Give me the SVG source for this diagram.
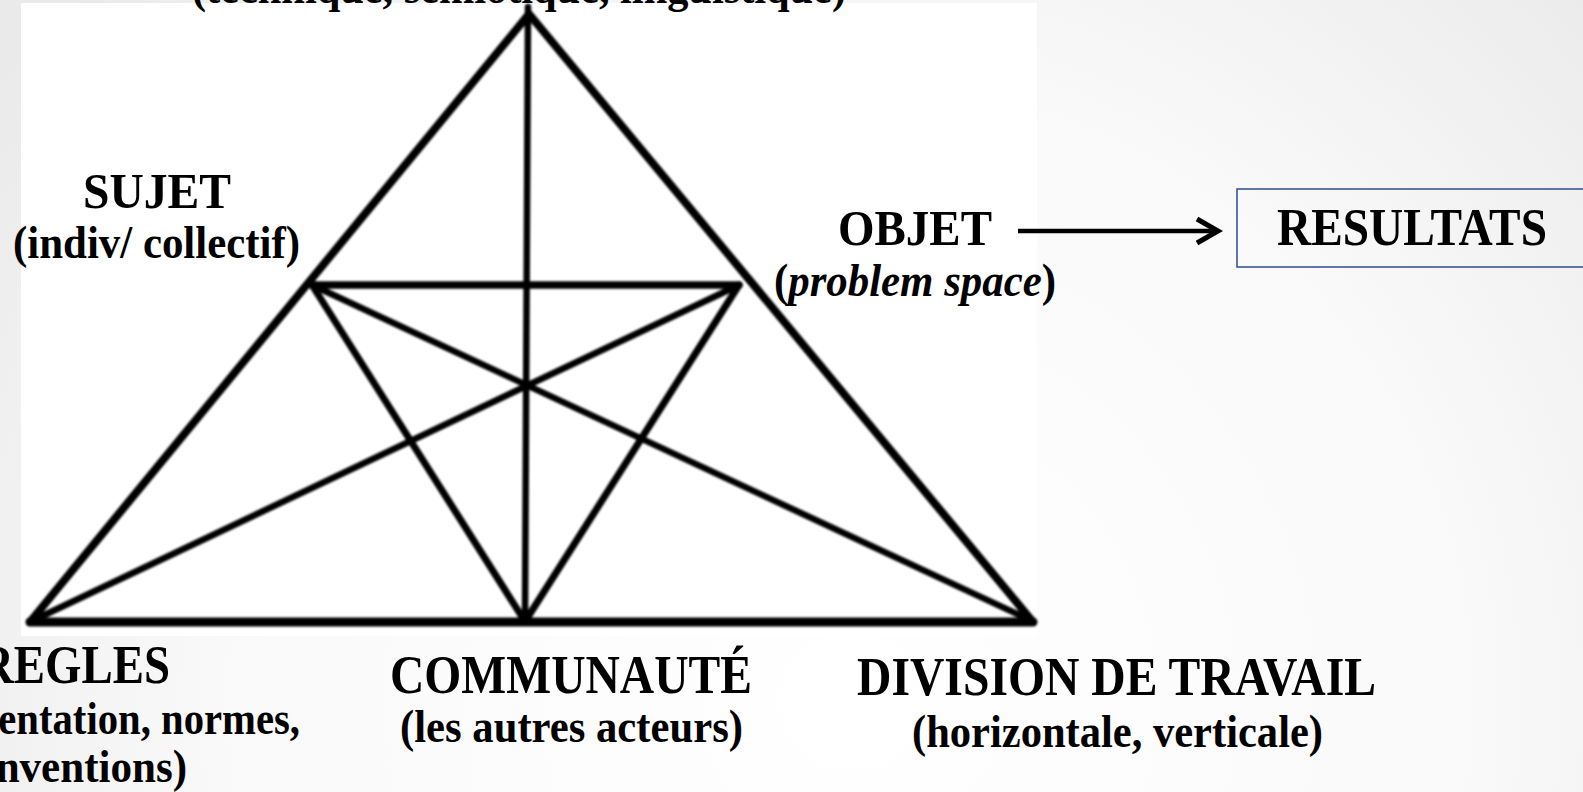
<svg xmlns="http://www.w3.org/2000/svg" width="1583" height="792" viewBox="0 0 1583 792">
<defs>
<radialGradient id="bg" gradientUnits="userSpaceOnUse" cx="850" cy="700" r="1050">
<stop offset="0" stop-color="#ffffff"/>
<stop offset="0.6" stop-color="#f9f9f9"/>
<stop offset="1" stop-color="#eaeaea"/>
</radialGradient>
<filter id="soft" x="-5%" y="-5%" width="110%" height="110%">
<feGaussianBlur stdDeviation="0.8"/>
</filter>
<style>
text{font-family:"Liberation Serif","Times New Roman",serif;font-weight:bold;fill:#000}
.tri line,.tri polygon{stroke:#000;fill:none;stroke-linecap:round;stroke-linejoin:round}
.conn{stroke:#000;fill:none}
</style>
</defs>
<rect x="0" y="0" width="1583" height="792" fill="url(#bg)"/>
<rect x="21" y="3" width="1016" height="633" fill="#ffffff"/>
<g id="triangle" class="tri" filter="url(#soft)">
<polygon points="30,622 529,14 1033,622" stroke-width="8"/>
<line x1="30" y1="622" x2="1033" y2="622" stroke-width="9"/>
<line x1="528" y1="7" x2="525" y2="621" stroke-width="6.5"/>
<line x1="312" y1="285" x2="739" y2="285" stroke-width="7.5"/>
<line x1="312" y1="285" x2="524" y2="620" stroke-width="7"/>
<line x1="739" y1="285" x2="526" y2="620" stroke-width="7"/>
<line x1="312" y1="285" x2="1028" y2="619" stroke-width="6.5"/>
<line x1="739" y1="285" x2="36" y2="619" stroke-width="6.5"/>
</g>
<g id="node-outils">
<text x="192" y="3" font-size="45" textLength="654" lengthAdjust="spacingAndGlyphs">(technique, sémiotique, linguistique)</text>
</g>
<g id="node-sujet">
<text x="83" y="208" font-size="50" textLength="148" lengthAdjust="spacingAndGlyphs">SUJET</text>
<text x="13" y="258" font-size="46" textLength="287" lengthAdjust="spacingAndGlyphs">(indiv/ collectif)</text>
</g>
<g id="node-objet">
<text x="838" y="245" font-size="51" textLength="154" lengthAdjust="spacingAndGlyphs">OBJET</text>
<text x="774" y="296" font-size="46" textLength="282" lengthAdjust="spacingAndGlyphs">(<tspan font-style="italic">problem space</tspan>)</text>
</g>
<g id="node-resultats">
<rect x="1237" y="189" width="360" height="78" fill="none" stroke="#2f4b8c" stroke-width="1.5"/>
<text x="1277" y="245" font-size="52" textLength="270" lengthAdjust="spacingAndGlyphs">RESULTATS</text>
</g>
<g id="node-regles">
<text x="170" y="683" font-size="54" text-anchor="end" textLength="190" lengthAdjust="spacingAndGlyphs">REGLES</text>
<text x="300" y="734" font-size="47" text-anchor="end" textLength="435" lengthAdjust="spacingAndGlyphs">(réglementation, normes,</text>
<text x="187" y="782" font-size="47" text-anchor="end" textLength="232" lengthAdjust="spacingAndGlyphs">conventions)</text>
</g>
<g id="node-communaute">
<text x="390" y="693" font-size="54" textLength="362" lengthAdjust="spacingAndGlyphs">COMMUNAUTÉ</text>
<text x="400" y="742" font-size="47" textLength="343" lengthAdjust="spacingAndGlyphs">(les autres acteurs)</text>
</g>
<g id="node-division">
<text x="857" y="695" font-size="54" textLength="519" lengthAdjust="spacingAndGlyphs">DIVISION DE TRAVAIL</text>
<text x="912" y="747" font-size="47" textLength="411" lengthAdjust="spacingAndGlyphs">(horizontale, verticale)</text>
</g>
<g id="connectors">
<line class="conn" x1="1018" y1="231" x2="1214" y2="231" stroke-width="4.5"/>
<path class="conn" d="M1197,219 L1218,231 L1197,243" stroke-width="5" stroke-linejoin="miter"/>
</g>
</svg>
